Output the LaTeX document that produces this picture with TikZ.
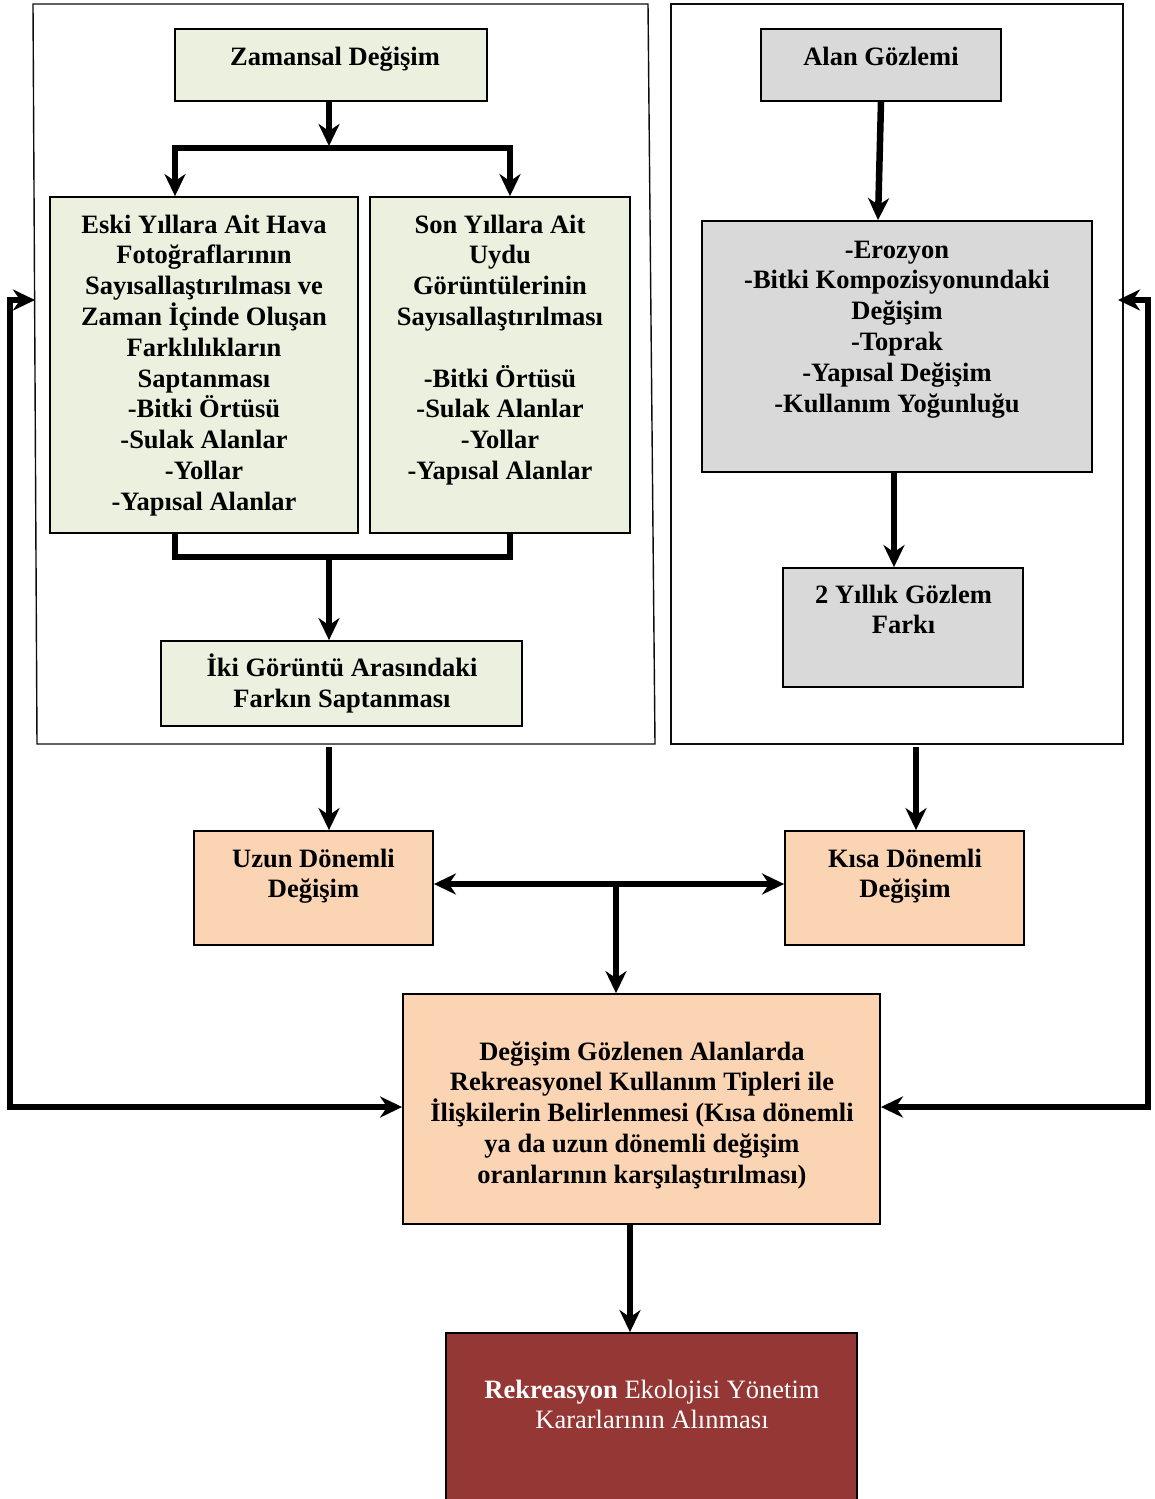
\documentclass[tikz,border=0pt]{standalone}
\usepackage{fontspec}
\setmainfont{Liberation Serif}
\usetikzlibrary{arrows.meta,calc}
\definecolor{gfill}{HTML}{EBF1DE}
\definecolor{grayfill}{HTML}{D9D9D9}
\definecolor{peach}{HTML}{FBD4B4}
\definecolor{wine}{HTML}{953735}
\tikzset{
  box/.style={draw=black, line width=1.8pt, inner sep=0pt, rectangle},
  frame/.style={draw=black!95, line width=1.4pt},
  txt/.style={font=\fontsize{26.5}{30.8}\selectfont\bfseries, align=center, inner sep=0pt, anchor=north},
  tip/.tip={Stealth[length=22pt,width=21pt,inset=7pt]},
  conn/.style={line width=6.5pt, line join=miter, -tip},
  conntwo/.style={line width=6.5pt, line join=miter, tip-tip},
  plain/.style={line width=6.5pt, line join=miter}
}
\newcommand{\ls}{\rule{0pt}{22pt}}
\begin{document}
\begin{tikzpicture}[x=1pt,y=-1pt]
\clip (0,0) rectangle (1154,1499);
\fill[white] (0,0) rectangle (1154,1499);

% frames
\draw[frame] (33,4) -- (648,4) -- (655,744) -- (37,744) -- cycle;
\draw[frame] (671,4) -- (1123,4) -- (1123,744) -- (671,744) -- cycle;

% boxes
\node[box, fill=gfill, minimum width=312pt, minimum height=72pt] (zam) at (331,65) {};
\node[box, fill=gfill, minimum width=308pt, minimum height=336pt] (eski) at (204,365) {};
\node[box, fill=gfill, minimum width=260pt, minimum height=336pt] (son) at (500,365) {};
\node[box, fill=gfill, minimum width=361pt, minimum height=85pt] (iki) at (341.5,683.5) {};
\node[box, fill=grayfill, minimum width=240pt, minimum height=72pt] (alan) at (881,65) {};
\node[box, fill=grayfill, minimum width=390pt, minimum height=251pt] (ero) at (897,346.5) {};
\node[box, fill=grayfill, minimum width=240pt, minimum height=119pt] (yil) at (903,627.5) {};
\node[box, fill=peach, minimum width=239pt, minimum height=114pt] (uzun) at (313.5,888) {};
\node[box, fill=peach, minimum width=239pt, minimum height=114pt] (kisa) at (904.5,888) {};
\node[box, fill=peach, minimum width=477pt, minimum height=230pt] (big) at (641.5,1109) {};
\node[box, fill=wine, minimum width=411pt, minimum height=200pt] (rek) at (651.5,1433) {};

% texts
\node[txt] (tzam) at (335,42.8) {\ls Zamansal Değişim};
\node[txt] (teski) at (204,210.8) {\ls Eski Yıllara Ait Hava\\Fotoğraflarının\\Sayısallaştırılması ve\\Zaman İçinde Oluşan\\Farklılıkların\\Saptanması\\-Bitki Örtüsü\\-Sulak Alanlar\\-Yollar\\-Yapısal Alanlar};
\node[txt] (tson) at (500,210.8) {\ls Son Yıllara Ait\\Uydu\\Görüntülerinin\\Sayısallaştırılması\\[30.8pt]-Bitki Örtüsü\\-Sulak Alanlar\\-Yollar\\-Yapısal Alanlar};
\node[txt] (tiki) at (342,653.8) {\ls İki Görüntü Arasındaki\\Farkın Saptanması};
\node[txt] (talan) at (881,42.8) {\ls Alan Gözlemi};
\node[txt] (tero) at (897,235.8) {\ls -Erozyon\\-Bitki Kompozisyonundaki\\Değişim\\-Toprak\\-Yapısal Değişim\\-Kullanım Yoğunluğu};
\node[txt] (tyil) at (903.5,580.8) {\ls 2 Yıllık Gözlem\\Farkı};
\node[txt] (tuzun) at (313.5,844.8) {\ls Uzun Dönemli\\Değişim};
\node[txt] (tkisa) at (905,844.8) {\ls Kısa Dönemli\\Değişim};
\node[txt] (tbig) at (642,1037.8) {\ls Değişim Gözlenen Alanlarda\\Rekreasyonel Kullanım Tipleri ile\\İlişkilerin Belirlenmesi (Kısa dönemli\\ya da uzun dönemli değişim\\oranlarının karşılaştırılması)};
\node[txt, text=white, font=\fontsize{26.5}{30.8}\selectfont] (trek) at (652,1375.8) {\ls\textbf{Rekreasyon} Ekolojisi Yönetim\\Kararlarının Alınması};

% coordinates
\coordinate (ka) at (329,146);
\coordinate (kl) at (175,148);
\coordinate (kr) at (510,148);
\coordinate (ml) at (175,557);
\coordinate (mr) at (510,557);
\coordinate (mm) at (329,557);
\coordinate (xa) at (878,0);
\coordinate (xe) at (894,0);
\coordinate (xl) at (329,747);
\coordinate (xr) at (916,747);
\coordinate (hy) at (0,884);
\coordinate (xm) at (616,884);
\coordinate (xb) at (630,0);
\coordinate (lt) at (35,300);
\coordinate (lc) at (10,300);
\coordinate (rt) at (1118,300);
\coordinate (rc) at (1148,300);
\coordinate (yb) at (0,1107);

% connectors
\draw[conn] (zam.south -| ka) -- (ka);
\draw[conntwo] (kl |- eski.north) -- (kl) -- (kr) -- (kr |- son.north);
\draw[plain] (ml |- eski.south) -- (ml) -- (mr) -- (mr |- son.south);
\draw[conn] (mm) -- (mm |- iki.north);
\draw[conn] (alan.south) -- (xa |- ero.north);
\draw[conn] (xe |- ero.south) -- (xe |- yil.north);
\draw[conn] (xl) -- (xl |- uzun.north);
\draw[conn] (xr) -- (xr |- kisa.north);
\draw[conntwo] (uzun.east |- hy) -- (kisa.west |- hy);
\draw[conn] (xm) -- (xm |- big.north);
\draw[conn] (xb |- big.south) -- (xb |- rek.north);
\draw[conntwo] (lt) -- (lc) |- (big.west |- yb);
\draw[conntwo] (rt) -- (rc) |- (big.east |- yb);
\end{tikzpicture}
\end{document}
